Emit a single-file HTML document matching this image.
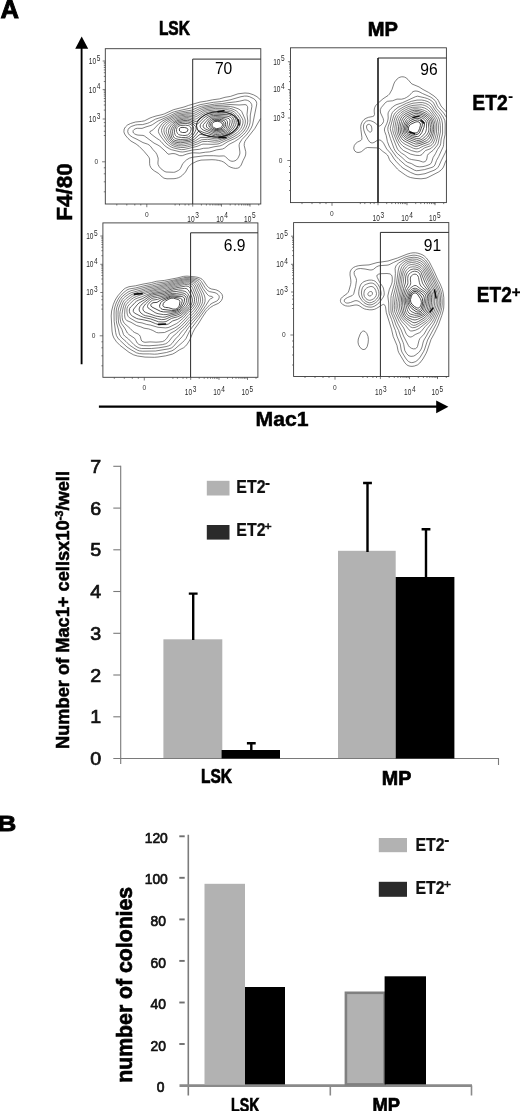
<!DOCTYPE html>
<html lang="en"><head><meta charset="utf-8"><title>Figure</title>
<style>
html,body{margin:0;padding:0;background:#fff;}
body{width:520px;height:1111px;overflow:hidden;}
svg{display:block;font-family:"Liberation Sans", sans-serif;}
</style></head><body>
<svg width="520" height="1111" viewBox="0 0 520 1111">
<rect width="520" height="1111" fill="#fff"/>
<text x="0.4" y="17.6" font-size="25.6" font-weight="bold" text-anchor="start" fill="#000" stroke="#000" stroke-width="0.9">A</text>
<text transform="translate(-2.4,831.3) scale(1.15,1)" font-size="22.6" font-weight="bold" stroke="#000" stroke-width="0.9">B</text>
<g id="frames" fill="none" stroke-linecap="butt">
<rect x="105.3" y="48.7" width="155.5" height="155.3" stroke="#3a3a3a" stroke-width="0.9"/>
<path d="M192.7 204.0V59.1H260.8" stroke="#2a2a2a" stroke-width="1"/>
<rect x="290.5" y="47.8" width="155.9" height="154.8" stroke="#3a3a3a" stroke-width="0.9"/>
<path d="M378.0 202.6V58.0H446.4" stroke="#2a2a2a" stroke-width="1"/>
<path d="M378.0 202.6V58.0" stroke="#111" stroke-width="1.2"/>
<rect x="102.9" y="222.9" width="155.0" height="154.4" stroke="#3a3a3a" stroke-width="0.9"/>
<path d="M190.6 377.3V232.8H257.9" stroke="#2a2a2a" stroke-width="1"/>
<rect x="293.6" y="222.6" width="155.2" height="153.9" stroke="#3a3a3a" stroke-width="0.9"/>
<path d="M380.4 376.5V232.4H448.8" stroke="#2a2a2a" stroke-width="1"/>
</g>
<g font-family='"Liberation Sans", sans-serif'>
<text x="223.6" y="73.8" font-size="15.6" font-weight="normal" text-anchor="middle" fill="#000">70</text>
<text x="429.0" y="74.5" font-size="15.6" font-weight="normal" text-anchor="middle" fill="#000">96</text>
<text x="234.6" y="250.8" font-size="15.6" font-weight="normal" text-anchor="middle" fill="#000">6.9</text>
<text x="432.5" y="250.6" font-size="15.6" font-weight="normal" text-anchor="middle" fill="#000">91</text>
</g>
<g id="ticklabels">
<text transform="translate(88.8,63.9) scale(0.8,1)" font-size="8.2" fill="#2a2a2a">10<tspan dx="0.8" dy="-3.2" font-size="8.2">5</tspan></text>
<text transform="translate(88.8,92.5) scale(0.8,1)" font-size="8.2" fill="#2a2a2a">10<tspan dx="0.8" dy="-3.2" font-size="8.2">4</tspan></text>
<text transform="translate(88.8,121.9) scale(0.8,1)" font-size="8.2" fill="#2a2a2a">10<tspan dx="0.8" dy="-3.2" font-size="8.2">3</tspan></text>
<text x="94.39999999999999" y="164.20000000000002" font-size="6.6" fill="#333">0</text>
<text transform="translate(273.2,64.60000000000001) scale(0.8,1)" font-size="8.2" fill="#2a2a2a">10<tspan dx="0.8" dy="-3.2" font-size="8.2">5</tspan></text>
<text transform="translate(273.2,92.4) scale(0.8,1)" font-size="8.2" fill="#2a2a2a">10<tspan dx="0.8" dy="-3.2" font-size="8.2">4</tspan></text>
<text transform="translate(273.2,120.9) scale(0.8,1)" font-size="8.2" fill="#2a2a2a">10<tspan dx="0.8" dy="-3.2" font-size="8.2">3</tspan></text>
<text x="278.8" y="162.9" font-size="6.6" fill="#333">0</text>
<text transform="translate(86.2,238.9) scale(0.8,1)" font-size="8.2" fill="#2a2a2a">10<tspan dx="0.8" dy="-3.2" font-size="8.2">5</tspan></text>
<text transform="translate(86.2,267.2) scale(0.8,1)" font-size="8.2" fill="#2a2a2a">10<tspan dx="0.8" dy="-3.2" font-size="8.2">4</tspan></text>
<text transform="translate(86.2,295.4) scale(0.8,1)" font-size="8.2" fill="#2a2a2a">10<tspan dx="0.8" dy="-3.2" font-size="8.2">3</tspan></text>
<text x="91.8" y="338.2" font-size="6.6" fill="#333">0</text>
<text transform="translate(276.3,239.1) scale(0.8,1)" font-size="8.2" fill="#2a2a2a">10<tspan dx="0.8" dy="-3.2" font-size="8.2">5</tspan></text>
<text transform="translate(276.3,267.2) scale(0.8,1)" font-size="8.2" fill="#2a2a2a">10<tspan dx="0.8" dy="-3.2" font-size="8.2">4</tspan></text>
<text transform="translate(276.3,294.9) scale(0.8,1)" font-size="8.2" fill="#2a2a2a">10<tspan dx="0.8" dy="-3.2" font-size="8.2">3</tspan></text>
<text x="281.90000000000003" y="337.4" font-size="6.6" fill="#333">0</text>
<text x="145.0" y="216.6" font-size="6.6" fill="#333">0</text>
<text transform="translate(187.3,221.6) scale(0.8,1)" font-size="8.2" fill="#2a2a2a">10<tspan dx="0.8" dy="-3.2" font-size="8.2">3</tspan></text>
<text transform="translate(216.3,221.6) scale(0.8,1)" font-size="8.2" fill="#2a2a2a">10<tspan dx="0.8" dy="-3.2" font-size="8.2">4</tspan></text>
<text transform="translate(244.0,221.6) scale(0.8,1)" font-size="8.2" fill="#2a2a2a">10<tspan dx="0.8" dy="-3.2" font-size="8.2">5</tspan></text>
<text x="330.0" y="216.0" font-size="6.6" fill="#333">0</text>
<text transform="translate(372.5,221.0) scale(0.8,1)" font-size="8.2" fill="#2a2a2a">10<tspan dx="0.8" dy="-3.2" font-size="8.2">3</tspan></text>
<text transform="translate(401.3,221.0) scale(0.8,1)" font-size="8.2" fill="#2a2a2a">10<tspan dx="0.8" dy="-3.2" font-size="8.2">4</tspan></text>
<text transform="translate(429.0,221.0) scale(0.8,1)" font-size="8.2" fill="#2a2a2a">10<tspan dx="0.8" dy="-3.2" font-size="8.2">5</tspan></text>
<text x="142.6" y="390.3" font-size="6.6" fill="#333">0</text>
<text transform="translate(184.8,395.3) scale(0.8,1)" font-size="8.2" fill="#2a2a2a">10<tspan dx="0.8" dy="-3.2" font-size="8.2">3</tspan></text>
<text transform="translate(213.3,395.3) scale(0.8,1)" font-size="8.2" fill="#2a2a2a">10<tspan dx="0.8" dy="-3.2" font-size="8.2">4</tspan></text>
<text transform="translate(241.5,395.3) scale(0.8,1)" font-size="8.2" fill="#2a2a2a">10<tspan dx="0.8" dy="-3.2" font-size="8.2">5</tspan></text>
<text x="333.0" y="390.0" font-size="6.6" fill="#333">0</text>
<text transform="translate(375.0,395.0) scale(0.8,1)" font-size="8.2" fill="#2a2a2a">10<tspan dx="0.8" dy="-3.2" font-size="8.2">3</tspan></text>
<text transform="translate(404.0,395.0) scale(0.8,1)" font-size="8.2" fill="#2a2a2a">10<tspan dx="0.8" dy="-3.2" font-size="8.2">4</tspan></text>
<text transform="translate(431.5,395.0) scale(0.8,1)" font-size="8.2" fill="#2a2a2a">10<tspan dx="0.8" dy="-3.2" font-size="8.2">5</tspan></text>
</g>
<g id="ticks" stroke="#444" stroke-width="0.7" fill="none">
<path d="M102.7 61.0H105.3M102.7 89.6H105.3M102.7 119.0H105.3M102.1 161.8H105.3M103.8 81.5H105.3M103.8 76.4H105.3M103.8 72.7H105.3M103.8 69.9H105.3M103.8 67.5H105.3M103.8 65.6H105.3M103.8 63.8H105.3M103.8 62.3H105.3M103.8 110.1H105.3M103.8 105.0H105.3M103.8 101.3H105.3M103.8 98.5H105.3M103.8 96.1H105.3M103.8 94.2H105.3M103.8 92.4H105.3M103.8 90.9H105.3M103.8 135.5H105.3M103.8 131.3H105.3M103.8 126.1H105.3M103.8 122.6H105.3M103.8 167.8H105.3M103.8 173.8H105.3M103.8 181.8H105.3M103.8 191.8H105.3M192.7 204.0v2.6M221.5 204.0v2.6M250.0 204.0v2.6M146.8 204.0v3.2M201.4 204.0v1.5M206.4 204.0v1.5M210.0 204.0v1.5M212.8 204.0v1.5M215.1 204.0v1.5M217.0 204.0v1.5M218.7 204.0v1.5M220.2 204.0v1.5M230.2 204.0v1.5M235.2 204.0v1.5M238.8 204.0v1.5M241.6 204.0v1.5M243.9 204.0v1.5M245.8 204.0v1.5M247.5 204.0v1.5M249.0 204.0v1.5M175.1 204.0v1.5M179.5 204.0v1.5M185.1 204.0v1.5M188.8 204.0v1.5M140.8 204.0v1.5M134.8 204.0v1.5M126.8 204.0v1.5M116.8 204.0v1.5M258.7 204.0v1.5"/>
<path d="M287.9 61.7H290.5M287.9 89.5H290.5M287.9 118.0H290.5M287.3 160.5H290.5M289.0 81.6H290.5M289.0 76.6H290.5M289.0 73.0H290.5M289.0 70.3H290.5M289.0 68.0H290.5M289.0 66.1H290.5M289.0 64.5H290.5M289.0 63.0H290.5M289.0 109.4H290.5M289.0 104.4H290.5M289.0 100.8H290.5M289.0 98.1H290.5M289.0 95.8H290.5M289.0 93.9H290.5M289.0 92.3H290.5M289.0 90.8H290.5M289.0 134.3H290.5M289.0 130.2H290.5M289.0 125.0H290.5M289.0 121.6H290.5M289.0 166.5H290.5M289.0 172.5H290.5M289.0 180.5H290.5M289.0 190.5H290.5M378.0 202.6v2.6M407.0 202.6v2.6M435.0 202.6v2.6M332.0 202.6v3.2M386.7 202.6v1.5M391.8 202.6v1.5M395.5 202.6v1.5M398.3 202.6v1.5M400.6 202.6v1.5M402.5 202.6v1.5M404.2 202.6v1.5M405.7 202.6v1.5M415.7 202.6v1.5M420.8 202.6v1.5M424.5 202.6v1.5M427.3 202.6v1.5M429.6 202.6v1.5M431.5 202.6v1.5M433.2 202.6v1.5M434.7 202.6v1.5M360.3 202.6v1.5M364.8 202.6v1.5M370.4 202.6v1.5M374.1 202.6v1.5M326.0 202.6v1.5M320.0 202.6v1.5M312.0 202.6v1.5M302.0 202.6v1.5M443.7 202.6v1.5"/>
<path d="M100.3 236.0H102.9M100.3 264.3H102.9M100.3 292.5H102.9M99.7 335.8H102.9M101.4 255.7H102.9M101.4 250.7H102.9M101.4 247.2H102.9M101.4 244.5H102.9M101.4 242.3H102.9M101.4 240.4H102.9M101.4 238.7H102.9M101.4 237.3H102.9M101.4 284.0H102.9M101.4 279.0H102.9M101.4 275.5H102.9M101.4 272.8H102.9M101.4 270.6H102.9M101.4 268.7H102.9M101.4 267.0H102.9M101.4 265.6H102.9M101.4 309.1H102.9M101.4 305.0H102.9M101.4 299.7H102.9M101.4 296.2H102.9M101.4 341.8H102.9M101.4 347.8H102.9M101.4 355.8H102.9M101.4 365.8H102.9M190.7 377.3v2.6M219.0 377.3v2.6M247.5 377.3v2.6M144.3 377.3v3.2M199.2 377.3v1.5M204.2 377.3v1.5M207.7 377.3v1.5M210.5 377.3v1.5M212.7 377.3v1.5M214.6 377.3v1.5M216.3 377.3v1.5M217.7 377.3v1.5M227.5 377.3v1.5M232.5 377.3v1.5M236.0 377.3v1.5M238.8 377.3v1.5M241.0 377.3v1.5M242.9 377.3v1.5M244.6 377.3v1.5M246.0 377.3v1.5M172.9 377.3v1.5M177.4 377.3v1.5M183.0 377.3v1.5M186.7 377.3v1.5M138.3 377.3v1.5M132.3 377.3v1.5M124.3 377.3v1.5M114.3 377.3v1.5M256.0 377.3v1.5"/>
<path d="M291.0 236.2H293.6M291.0 264.3H293.6M291.0 292.0H293.6M290.4 335.0H293.6M292.1 255.6H293.6M292.1 250.7H293.6M292.1 247.2H293.6M292.1 244.5H293.6M292.1 242.3H293.6M292.1 240.5H293.6M292.1 238.9H293.6M292.1 237.5H293.6M292.1 283.7H293.6M292.1 278.8H293.6M292.1 275.3H293.6M292.1 272.6H293.6M292.1 270.4H293.6M292.1 268.6H293.6M292.1 267.0H293.6M292.1 265.6H293.6M292.1 308.5H293.6M292.1 304.4H293.6M292.1 299.1H293.6M292.1 295.7H293.6M292.1 341.0H293.6M292.1 347.0H293.6M292.1 355.0H293.6M292.1 365.0H293.6M380.4 376.5v2.6M409.5 376.5v2.6M437.5 376.5v2.6M335.0 376.5v3.2M389.2 376.5v1.5M394.3 376.5v1.5M397.9 376.5v1.5M400.7 376.5v1.5M403.0 376.5v1.5M405.0 376.5v1.5M406.7 376.5v1.5M408.2 376.5v1.5M418.3 376.5v1.5M423.4 376.5v1.5M427.0 376.5v1.5M429.8 376.5v1.5M432.1 376.5v1.5M434.1 376.5v1.5M435.8 376.5v1.5M437.3 376.5v1.5M362.9 376.5v1.5M367.3 376.5v1.5M372.9 376.5v1.5M376.5 376.5v1.5M329.0 376.5v1.5M323.0 376.5v1.5M315.0 376.5v1.5M305.0 376.5v1.5M446.3 376.5v1.5"/>
</g>
<g id="contours" fill="none" stroke-linejoin="round">
<path stroke="#303030" stroke-width="0.62" d="M183.5 144.1L180.5 144.3L177.5 144.0L174.5 143.3L172.0 142.0L170.8 141.0L169.6 139.5L166.5 133.0L166.2 131.5L166.4 129.5L166.9 128.0L167.8 126.5L171.4 123.0L176.5 119.7L180.0 118.6L186.5 117.5L189.5 117.8L194.0 119.0L195.5 119.1L197.0 118.6L202.0 114.8L205.5 112.9L209.0 112.0L215.5 111.4L221.5 111.7L227.0 111.3L230.0 111.8L232.5 112.8L234.2 114.0L236.0 116.0L237.6 118.5L238.2 120.5L238.3 122.5L237.7 125.0L236.5 127.5L235.0 129.5L232.9 131.5L229.0 134.4L226.5 135.8L220.5 138.1L217.0 138.8L214.0 138.7L208.0 137.5L201.0 137.4L200.0 137.8L195.5 140.7L192.0 142.3L188.5 143.2ZM185.0 145.6L181.5 145.9L178.5 145.7L175.0 144.9L172.0 143.6L170.0 142.1L168.5 140.5L165.2 135.0L164.3 133.0L163.9 131.0L164.0 129.5L164.6 127.5L165.8 125.5L167.4 124.0L169.3 122.5L175.5 118.8L179.0 117.5L186.0 116.3L189.0 116.3L193.5 117.1L195.0 117.0L197.0 116.2L203.0 112.4L205.5 111.3L207.5 110.8L215.5 109.9L221.5 110.1L227.0 109.7L230.5 110.3L233.0 111.2L234.5 112.1L237.5 115.0L239.8 118.5L240.6 121.0L240.5 123.0L239.9 125.5L238.6 128.0L237.1 130.0L234.9 132.0L231.0 134.7L228.0 136.4L221.5 139.2L217.5 140.3L214.0 140.3L207.5 139.3L201.5 139.8L197.0 142.0L193.5 143.4L189.5 144.6ZM184.0 147.5L180.5 147.5L176.0 146.8L173.0 145.8L170.5 144.4L168.5 142.8L166.9 141.0L163.1 135.5L161.8 132.5L161.5 130.5L161.7 129.0L163.0 126.0L164.5 124.0L167.5 121.7L175.0 117.6L179.0 116.2L185.5 115.1L188.5 115.0L193.0 115.4L194.5 115.2L196.0 114.6L202.0 111.2L204.5 110.2L207.0 109.5L215.5 108.4L222.0 108.4L227.5 108.0L229.5 108.2L232.0 108.9L234.5 109.9L236.4 111.0L238.0 112.4L239.4 114.0L242.3 118.5L243.0 120.5L243.0 123.0L242.1 126.0L240.8 128.5L239.0 130.8L237.2 132.5L234.0 134.7L230.0 137.0L221.5 140.7L218.5 141.8L214.5 142.2L207.5 141.4L202.5 141.6L201.0 142.1L197.5 143.9L193.0 145.4L187.5 146.8ZM184.0 149.5L181.5 149.6L179.0 149.2L173.5 147.9L171.0 146.9L168.2 145.0L166.0 143.1L161.2 137.0L158.8 133.0L158.4 131.5L158.5 130.0L159.3 128.0L161.2 125.0L162.4 123.5L164.1 122.0L166.5 120.5L174.5 116.4L177.5 115.3L186.5 113.8L193.5 113.6L195.1 113.0L200.0 110.3L203.0 109.1L206.0 108.3L214.0 107.1L217.0 106.9L223.0 106.8L228.0 106.3L230.5 106.5L234.0 107.3L238.0 108.7L240.3 110.0L241.7 111.5L245.0 119.0L245.4 121.0L245.2 123.5L244.3 126.5L242.7 129.5L240.1 132.5L237.5 134.6L233.0 137.3L219.0 143.7L217.0 144.1L213.0 144.3L203.0 144.1L201.5 144.5L197.0 146.4ZM182.5 152.0L180.0 151.8L171.5 149.7L169.5 148.8L167.0 147.3L164.5 145.5L161.0 141.5L159.5 140.1L156.3 138.0L151.0 134.0L150.0 133.0L149.7 132.0L150.0 131.5L152.0 130.5L153.5 129.4L159.1 123.5L161.7 121.5L165.0 119.6L169.6 117.5L174.0 115.2L177.0 114.0L185.5 112.6L192.5 111.9L194.5 111.2L199.5 108.7L202.0 107.8L205.0 107.1L214.5 105.6L223.0 105.2L230.0 104.5L239.0 105.0L245.0 104.6L246.0 104.8L247.0 105.6L247.5 106.5L247.7 108.0L247.0 114.5L247.8 121.0L247.3 124.5L245.7 128.5L244.1 131.0L241.5 133.9L238.5 136.3L235.0 138.4L228.0 141.5L222.5 144.9L220.0 145.9L214.0 146.8L208.5 148.1L203.5 148.3L199.5 149.3L192.5 150.0L185.0 151.7ZM182.5 155.6L181.0 155.7L179.5 155.6L175.8 154.0L174.0 153.6L172.0 153.6L169.0 154.2L168.0 154.1L165.1 151.0L160.0 146.4L158.0 145.1L154.0 143.1L144.5 136.0L143.0 135.4L138.0 135.1L136.0 134.6L134.5 133.8L133.5 133.0L133.0 132.0L133.2 130.5L134.1 129.5L136.0 128.5L137.5 128.3L142.0 128.4L146.0 126.9L151.0 125.4L152.7 124.5L158.0 121.0L168.3 116.5L175.0 113.2L179.0 112.2L191.5 110.2L198.5 107.2L201.5 106.3L214.5 104.1L222.5 103.6L228.0 102.7L235.5 101.9L239.5 101.2L244.5 100.0L246.0 100.0L247.5 100.4L249.0 101.1L250.6 102.5L251.7 104.5L251.9 106.5L250.3 115.0L250.1 122.5L249.4 125.5L247.6 129.5L245.5 132.5L243.0 135.2L238.5 139.0L234.5 141.6L229.0 144.4L224.6 148.0L222.5 149.0L216.5 149.9L212.0 151.3L209.5 151.9L205.5 152.2L199.5 153.1L193.5 152.8L191.0 153.0L186.9 154.0ZM175.0 172.1L173.5 172.3L166.0 172.0L164.0 171.1L160.7 168.5L159.1 166.5L158.1 164.5L157.9 163.0L158.2 159.5L158.1 158.0L156.9 154.5L155.7 152.5L152.9 149.5L150.5 146.3L149.0 144.9L147.5 144.1L143.0 142.6L137.0 139.3L132.5 137.2L129.5 135.1L128.3 133.5L127.7 131.5L128.1 129.5L129.1 128.0L131.2 126.5L135.5 125.0L137.5 124.7L142.5 124.6L147.5 123.3L149.5 122.5L155.5 119.1L164.0 116.5L172.0 112.6L174.5 111.7L190.8 108.0L198.0 105.3L201.0 104.5L213.5 102.3L221.5 101.5L230.0 99.9L241.0 96.7L244.5 96.1L247.0 96.1L249.5 96.7L253.3 98.5L255.3 100.0L256.5 102.0L256.7 103.5L256.6 105.0L252.5 125.0L251.2 128.0L248.7 132.0L246.3 135.0L241.9 139.5L239.7 143.0L239.2 144.5L239.1 146.0L239.9 152.0L239.8 154.0L238.6 157.0L237.5 158.8L236.5 159.9L235.0 160.8L233.5 161.2L232.0 161.3L230.5 160.9L228.5 159.7L225.5 156.7L224.5 156.1L223.5 155.9L219.0 156.1L213.5 155.7L205.0 155.7L193.0 157.2L189.5 158.1L186.5 159.9L182.8 163.5L180.5 168.4L179.7 169.5L178.3 170.5ZM260.5 118.6L254.8 128.5L246.2 139.5L244.9 141.5L244.3 143.5L244.2 145.5L245.7 151.5L245.8 153.0L245.6 155.0L244.9 157.0L243.1 160.5L241.2 165.0L240.2 166.5L239.0 167.6L237.5 168.2L235.5 168.4L233.5 168.1L231.0 167.4L228.5 166.1L225.0 163.0L223.5 162.0L221.5 161.1L218.5 160.4L215.5 159.9L212.0 159.7L201.0 160.1L197.0 161.2L191.3 164.0L188.5 166.6L185.5 172.0L182.5 175.2L180.5 176.7L178.5 177.7L176.5 178.3L174.0 178.7L167.0 178.8L164.0 178.2L162.2 177.0L158.7 173.5L154.5 171.0L152.0 169.1L150.8 167.5L149.9 165.5L149.6 163.5L149.6 159.0L149.0 157.5L148.4 156.5L144.0 151.3L139.3 146.5L136.1 144.0L131.0 141.1L128.0 138.4L125.2 135.0L124.2 133.0L123.9 131.5L124.2 129.0L125.4 127.0L127.5 125.0L130.5 123.5L135.5 122.0L141.5 121.4L144.5 120.8L150.0 118.0L152.5 117.1L156.0 116.0L161.0 114.9L164.1 114.0L173.5 109.7L184.0 107.0L188.5 105.4L200.0 102.1L206.5 101.1L212.5 99.8L219.5 98.9L225.0 97.3L230.5 96.4L238.0 93.8L245.0 93.0L249.0 93.3L253.5 94.8L257.0 96.7L260.5 99.9M418.5 148.5L416.0 148.9L413.5 148.3L405.0 144.2L402.5 142.5L400.5 140.3L398.7 137.0L397.5 134.0L396.8 131.0L396.7 126.5L397.7 121.5L398.7 118.5L400.0 116.3L402.0 114.1L404.5 112.3L409.5 109.9L413.0 108.9L417.0 108.8L421.0 109.3L424.5 110.5L427.5 112.2L430.5 115.0L432.8 118.0L434.2 121.0L435.0 124.5L435.1 128.0L434.7 133.0L433.1 139.0L431.6 142.0L430.7 143.0L429.5 143.8L423.6 146.0ZM419.0 151.6L417.5 151.9L416.0 151.8L411.5 150.6L406.0 148.1L403.0 146.2L400.5 143.6L398.7 141.0L396.0 135.0L394.9 131.0L394.9 127.0L395.9 121.5L396.7 118.5L398.3 115.5L401.0 112.7L404.5 110.4L408.5 108.4L412.5 107.3L419.5 107.0L421.5 107.2L424.5 108.0L427.5 109.6L430.0 111.9L434.3 117.5L435.7 120.5L436.5 124.0L436.7 127.0L436.4 133.5L434.8 139.5L433.3 143.0L432.0 144.7L430.5 145.8L424.5 147.9L420.5 150.8ZM419.5 155.5L415.5 155.3L410.5 154.1L403.5 150.5L401.5 148.9L399.6 146.5L396.6 141.0L393.6 133.5L392.8 130.5L392.7 128.5L394.2 120.5L395.3 117.0L396.6 114.5L399.1 112.0L401.5 110.2L405.5 107.8L409.0 106.4L413.0 105.4L421.0 104.7L422.5 104.9L424.5 105.4L426.5 106.3L428.5 107.6L430.5 109.6L435.9 117.0L437.3 119.5L438.1 123.0L438.4 126.0L438.4 131.5L438.1 134.0L436.3 141.5L435.5 143.5L434.5 145.0L431.5 148.0L430.0 148.9L425.6 150.5L424.5 151.5L422.0 154.5L421.0 155.1ZM423.5 162.0L422.5 161.9L419.0 160.7L411.5 159.5L409.5 158.9L408.0 158.0L404.5 155.0L401.4 153.0L399.5 151.4L398.0 149.8L397.0 148.0L392.7 137.0L390.5 130.0L390.3 128.5L390.5 127.0L392.8 118.5L393.9 115.0L395.1 113.0L399.1 109.5L405.0 106.1L409.0 104.4L413.0 103.2L419.0 102.6L422.5 102.6L425.5 103.3L428.5 104.8L431.0 107.1L433.6 111.0L437.9 116.5L439.2 119.0L439.8 121.5L440.3 125.5L440.4 132.0L438.0 144.0L436.7 146.0L433.0 150.4L428.3 154.0L427.4 155.5L426.8 159.0L426.2 160.5L425.0 161.6ZM423.0 166.6L419.5 166.8L417.0 166.5L415.0 165.7L411.5 163.6L407.5 162.3L405.7 161.0L402.0 157.5L397.5 153.7L395.3 151.0L394.0 148.5L390.4 138.5L388.2 131.5L387.8 129.5L388.0 127.0L390.0 121.5L391.5 114.5L392.4 112.5L394.0 110.6L398.0 107.4L406.5 103.2L411.5 101.3L417.0 100.1L421.5 100.0L424.5 100.5L428.0 101.7L430.7 103.5L432.0 105.0L435.1 110.0L438.9 114.5L440.3 116.5L441.8 120.0L442.5 124.0L442.6 133.0L442.3 135.0L441.2 139.0L440.7 143.5L440.2 145.5L437.5 149.5L435.5 153.6L433.1 157.5L431.7 162.0L430.9 163.5L430.0 164.2L428.0 165.2L425.5 166.0ZM419.0 170.5L416.5 170.7L414.5 170.2L405.5 165.2L399.0 159.4L396.0 156.3L390.8 149.0L389.1 146.0L387.4 141.5L386.2 135.5L384.7 131.5L384.4 130.0L384.7 128.0L387.0 123.1L387.9 120.0L388.2 118.0L388.0 114.0L388.3 112.5L389.4 110.5L391.0 108.5L394.0 106.0L396.0 104.8L402.5 102.7L415.5 96.7L417.5 96.2L424.5 97.7L427.5 98.6L430.0 99.8L432.5 101.6L433.6 103.0L436.4 108.5L440.8 113.5L443.2 117.0L444.8 120.5L445.2 124.0L445.1 134.5L443.9 140.0L443.6 144.5L443.3 146.5L438.7 156.5L436.5 160.5L434.9 165.0L433.7 166.5L432.0 167.4L424.5 169.6ZM370.5 132.1L369.5 131.9L368.5 131.2L367.5 129.9L366.8 128.5L366.5 127.0L366.6 126.0L367.1 125.0L368.0 124.3L369.5 124.4L370.5 125.0L371.2 126.0L371.6 127.0L371.9 129.0L371.8 130.5L371.4 131.5ZM446.5 149.6L445.3 152.5L441.1 161.0L439.1 165.5L437.8 167.5L436.3 169.0L434.0 170.3L425.0 173.7L419.0 174.7L417.0 174.7L415.0 174.3L410.5 172.4L403.0 168.1L401.1 166.5L396.5 161.8L394.2 159.0L390.5 153.2L386.7 149.0L383.5 143.1L381.5 140.8L380.0 140.0L378.5 140.0L377.0 140.5L374.0 142.5L372.5 142.9L371.0 142.8L369.7 142.0L368.0 139.6L364.8 133.0L363.8 130.0L363.4 127.0L363.7 124.5L364.8 122.5L366.5 121.1L368.5 120.6L370.5 120.7L373.0 121.6L375.2 123.0L378.5 125.9L379.5 126.0L380.5 125.5L382.0 124.2L382.9 123.0L383.5 121.5L383.6 120.5L383.2 118.5L380.6 113.0L380.3 111.0L380.4 109.5L381.3 107.5L385.5 102.5L387.5 101.3L392.5 100.8L397.0 99.1L401.5 99.2L404.3 98.5L406.4 97.5L409.4 95.5L412.0 92.5L413.0 91.6L415.0 91.0L417.0 91.1L419.0 91.7L422.5 93.5L430.5 97.0L433.5 99.0L435.7 101.5L437.4 105.5L438.5 107.3L443.6 113.0L446.5 117.5M446.5 159.9L445.3 162.0L443.9 166.0L442.9 168.0L441.0 170.2L438.5 172.0L428.0 177.4L426.0 178.2L421.0 178.8L415.0 178.4L410.5 177.5L407.8 176.5L405.5 175.1L399.0 170.5L397.4 169.0L390.3 161.0L389.4 159.5L388.3 156.5L387.4 155.0L386.0 153.7L382.9 151.5L379.5 148.5L377.0 147.9L367.5 147.5L365.5 148.3L361.5 151.6L360.0 152.2L358.0 152.5L356.5 152.2L355.0 151.2L354.2 150.0L353.7 148.0L354.3 145.5L355.7 143.5L357.5 142.1L360.8 140.5L361.7 139.5L361.9 137.5L360.9 129.5L360.7 126.5L361.2 124.0L362.4 121.5L364.0 119.6L366.0 118.3L368.5 117.3L372.7 116.5L374.0 115.8L374.5 114.5L374.2 111.0L374.3 109.0L374.7 107.5L375.5 105.8L377.0 104.1L383.0 98.8L388.0 95.5L389.5 94.0L392.0 89.5L393.8 84.0L394.7 82.0L397.1 79.0L398.5 77.9L400.0 77.2L401.5 76.8L403.0 76.8L404.5 77.1L406.0 77.8L408.0 79.5L410.9 83.0L412.0 84.0L419.0 86.9L423.0 89.5L428.5 92.4L434.0 96.0L437.3 99.0L438.3 100.5L441.0 106.0L446.5 112.1M168.0 327.6L165.5 327.9L158.0 327.3L150.5 325.1L146.5 324.4L142.0 322.9L138.0 322.3L136.0 321.6L129.5 317.8L128.0 316.2L127.2 314.0L126.9 311.0L127.0 308.5L127.7 306.5L129.5 304.2L133.3 300.5L135.0 299.2L137.0 298.3L141.5 296.8L150.0 293.3L153.0 292.4L164.5 290.0L175.0 286.8L184.5 284.6L187.5 284.4L190.0 285.1L191.4 286.0L192.4 287.5L196.1 296.5L196.5 298.5L196.5 300.5L196.2 302.5L195.4 304.5L193.9 307.0L192.0 309.2L187.6 313.0L183.5 317.9L178.5 322.2L176.5 323.6L170.0 326.8ZM164.5 332.5L158.5 332.8L156.5 332.5L152.9 330.5L150.4 329.5L148.5 328.9L144.0 328.2L140.5 326.7L136.5 325.5L131.0 322.3L126.7 320.5L125.8 319.5L125.2 318.5L124.8 317.0L124.6 314.5L124.9 309.0L125.5 306.5L126.3 304.5L128.4 302.0L131.5 299.2L133.5 297.8L136.5 296.4L146.5 292.9L152.0 291.3L166.5 288.1L175.5 285.4L184.5 283.3L186.5 283.1L188.5 283.1L190.5 283.6L192.0 284.3L193.0 285.0L194.1 286.5L195.8 291.0L197.6 295.0L198.2 297.0L198.5 299.5L198.3 301.5L197.7 304.0L196.7 306.0L193.5 310.4L189.0 314.5L185.0 319.2L179.0 325.1L177.0 326.6L174.5 328.0ZM159.0 342.0L156.0 342.2L150.0 341.9L145.0 342.3L143.0 341.8L141.8 341.0L141.2 340.0L140.3 336.5L139.4 335.0L138.1 334.0L134.6 332.5L133.1 331.5L130.2 328.5L124.5 323.5L123.5 322.0L122.6 320.0L122.2 317.5L122.0 314.5L122.3 312.0L123.1 308.0L124.0 305.0L124.8 303.0L127.0 300.4L130.5 297.6L132.5 296.2L135.5 294.9L145.5 291.7L167.5 286.5L175.5 284.2L184.5 282.1L187.0 281.8L189.5 282.0L191.6 282.5L193.5 283.3L194.9 284.5L195.8 286.0L197.5 290.3L199.3 294.0L200.2 297.0L200.5 300.0L200.3 302.0L199.7 304.0L198.2 307.0L194.5 312.2L190.0 316.5L181.3 326.0L175.0 330.9L170.2 333.5L169.3 334.5L166.7 338.5L164.5 340.6L162.5 341.6ZM153.0 345.5L149.0 345.8L143.5 345.6L141.0 345.2L139.0 344.5L137.2 343.0L135.4 339.5L134.5 338.2L129.0 334.6L127.4 333.0L124.7 328.0L121.4 323.5L120.6 321.5L120.2 319.0L119.8 314.5L120.1 311.5L121.7 305.5L122.9 302.5L123.7 301.0L126.1 298.5L130.0 295.6L132.0 294.4L134.5 293.4L145.5 290.2L167.0 285.4L175.0 283.2L185.0 280.8L187.5 280.7L191.0 281.1L193.5 281.7L195.1 282.5L196.3 283.5L197.0 284.5L199.0 289.0L201.1 293.0L202.1 296.0L202.7 299.0L202.6 301.5L202.1 303.5L200.9 306.0L198.1 310.5L195.0 314.6L190.0 319.4L184.0 326.3L179.1 330.5L176.4 333.5L172.7 336.5L169.2 341.0L167.5 342.7L165.5 343.8L162.5 344.6L158.5 345.1ZM151.5 348.5L141.5 348.5L139.5 348.1L138.0 347.5L136.0 346.3L133.8 344.5L128.5 339.0L124.7 336.0L123.5 334.5L121.9 329.5L119.5 325.1L118.7 323.0L118.4 321.0L118.0 314.5L118.1 311.0L118.7 308.0L120.8 302.5L122.3 299.5L123.5 298.1L125.0 296.7L129.0 293.8L131.0 292.8L147.0 288.3L167.5 284.1L174.5 282.1L185.0 279.7L188.0 279.6L192.0 280.1L194.5 280.7L196.5 281.6L197.7 282.5L198.4 283.5L200.5 287.9L203.4 293.0L204.6 296.0L205.1 298.5L205.0 301.5L204.2 304.0L199.7 311.5L196.2 316.0L189.5 322.9L185.0 328.3L181.4 332.0L178.5 335.9L175.4 339.0L172.0 343.5L170.5 344.9L168.5 345.9L166.0 346.6L159.0 347.8ZM155.5 351.0L142.5 351.2L139.5 350.9L137.5 350.2L135.0 348.8L129.4 345.0L126.0 341.5L122.0 338.1L120.5 336.3L119.4 334.0L118.6 330.0L116.6 323.0L116.3 320.5L116.1 313.0L116.3 310.0L116.8 307.5L118.2 303.5L120.1 299.5L121.9 297.0L124.0 295.0L128.0 292.0L131.0 290.7L147.0 286.8L152.5 285.8L157.0 284.7L166.9 283.0L173.5 281.2L185.0 278.7L188.0 278.6L193.0 279.1L195.5 279.6L197.6 280.5L199.0 281.5L199.8 282.5L203.0 288.5L207.0 294.1L208.5 295.5L209.5 296.1L212.1 296.5L212.7 297.0L212.8 297.5L212.4 298.0L210.5 298.8L209.5 299.6L205.9 305.5L199.2 315.0L188.5 327.5L184.5 333.5L182.3 336.5L178.0 341.1L173.4 346.5L171.5 347.9L169.0 348.8ZM157.5 354.0L154.5 354.2L149.5 353.9L143.0 353.9L139.5 353.6L136.5 352.8L131.0 349.7L127.0 347.0L119.6 340.0L117.8 338.0L116.4 335.5L115.7 332.5L114.2 321.5L114.0 314.0L114.2 310.0L115.0 306.5L116.2 303.0L118.2 299.0L120.5 295.7L124.0 292.3L127.0 289.9L129.5 288.9L135.2 288.0L145.0 285.6L151.5 284.4L156.5 283.1L165.0 282.0L185.0 277.5L188.0 277.4L194.5 278.1L197.0 278.6L199.1 279.5L200.5 280.5L201.4 281.5L205.0 287.5L207.5 290.5L209.5 291.6L215.0 292.7L216.7 293.5L218.0 294.5L218.8 295.5L219.2 296.5L219.2 297.5L218.7 299.0L218.0 300.0L216.8 301.0L212.0 303.3L210.0 304.7L205.5 309.3L198.0 319.7L190.8 329.0L189.5 331.2L186.0 338.5L184.5 340.4L182.3 342.5L174.5 349.3L172.0 350.8L166.5 352.5ZM158.0 357.0L154.5 357.3L145.0 357.1L137.5 356.0L133.5 354.8L129.0 352.3L120.2 345.5L116.5 341.8L113.9 338.0L112.7 335.0L112.0 331.0L111.2 316.0L111.6 311.0L113.3 304.5L115.2 300.0L117.7 296.0L122.0 291.0L124.0 289.1L125.5 288.1L129.0 286.7L135.5 285.8L143.0 284.1L151.5 282.6L156.5 281.3L164.5 280.4L177.0 278.0L183.5 276.4L187.0 276.1L195.5 276.9L198.0 277.4L200.5 278.3L202.0 279.2L203.3 280.5L207.0 285.9L209.0 287.9L211.5 289.0L215.5 289.7L217.0 290.2L219.0 291.3L220.5 292.5L222.1 294.5L222.6 296.5L222.4 298.5L221.4 300.5L220.1 302.0L218.5 303.3L213.5 305.5L210.5 307.4L208.0 309.5L206.0 311.8L202.5 317.0L198.8 323.0L194.6 329.0L192.8 332.5L189.8 340.0L187.3 344.0L185.5 346.2L183.5 347.8L179.5 349.8L175.0 352.8L172.5 354.1L165.5 355.9ZM415.5 325.1L413.5 325.4L411.5 324.6L403.9 318.5L402.3 316.0L400.7 312.0L399.8 309.0L399.4 306.0L399.5 303.5L400.3 297.0L401.9 288.5L403.2 283.0L403.9 276.5L404.5 274.0L405.9 271.0L408.0 268.5L410.0 267.2L412.5 266.8L415.5 267.0L418.0 267.8L420.5 269.3L422.0 271.0L423.3 273.5L426.9 282.5L432.0 292.0L432.7 294.5L433.1 299.0L433.1 303.0L432.5 306.5L431.2 311.0L429.5 314.6L427.5 317.1L425.0 319.5L418.0 323.9ZM415.0 327.5L412.5 327.7L410.7 327.0L403.0 319.9L401.3 317.5L399.7 314.0L398.2 310.0L397.7 307.0L397.9 302.5L401.3 283.5L402.2 276.5L403.0 273.0L404.5 269.6L406.4 267.0L408.5 265.3L411.0 264.6L414.5 264.8L418.0 265.8L421.0 267.6L423.0 269.7L424.8 273.0L428.8 282.5L433.4 291.5L434.2 294.5L434.7 300.0L434.6 304.0L433.9 307.5L431.9 313.0L430.0 316.5L427.5 319.5L425.5 321.3L418.0 326.2ZM412.0 331.0L410.5 330.9L409.0 329.9L405.6 325.5L402.3 322.0L400.8 320.0L398.6 316.0L396.7 311.5L396.1 309.0L396.0 305.5L396.3 301.5L399.5 284.5L400.6 277.0L402.2 270.5L403.9 267.0L406.5 264.2L408.6 263.0L411.5 262.5L415.5 263.0L419.0 264.2L422.0 266.2L424.3 269.0L426.2 272.5L430.5 282.5L435.0 291.5L435.7 294.5L436.4 301.5L436.0 305.5L434.3 311.0L432.3 315.5L429.5 319.8L427.5 321.8L419.0 328.5L415.5 330.2ZM371.0 295.7L370.0 296.0L369.0 295.9L368.4 295.5L367.9 294.5L368.0 293.5L368.6 292.5L369.5 291.8L370.5 291.5L371.5 291.6L372.0 292.0L372.5 293.0L372.2 294.5ZM411.0 337.0L410.0 337.0L409.0 336.6L408.0 336.0L406.7 334.5L405.8 333.0L403.7 328.0L399.3 321.5L394.8 312.0L394.4 309.5L394.3 305.5L395.2 297.0L398.0 284.4L399.2 276.0L400.2 271.0L401.2 268.0L401.9 266.5L403.1 265.0L406.0 262.4L409.0 261.1L412.5 260.7L416.5 261.3L420.5 262.9L423.2 265.0L425.4 268.0L427.3 271.5L431.7 281.5L436.4 291.0L437.4 295.5L437.9 303.0L437.3 307.0L435.8 311.5L432.9 317.5L430.7 321.0L425.2 326.5L421.0 331.6L419.5 332.7L415.2 334.5L412.5 336.4ZM371.0 300.1L369.5 300.3L368.5 300.1L367.1 299.5L366.0 298.7L364.4 296.5L364.0 295.0L363.9 293.5L364.3 291.0L365.5 289.0L366.7 288.0L368.5 287.1L371.0 286.4L373.0 286.9L374.5 288.1L375.8 290.5L376.5 293.5L376.2 295.5L375.1 297.5L373.3 299.0ZM415.5 348.7L413.5 348.9L411.5 348.3L409.5 347.0L408.5 345.7L403.5 336.0L401.2 330.0L397.5 323.0L395.5 318.1L393.3 313.5L392.9 312.0L392.6 310.0L393.1 297.0L396.4 284.0L398.3 270.0L399.1 267.0L399.9 265.5L401.2 264.0L405.0 261.0L408.5 259.5L412.5 259.0L416.5 259.3L420.5 260.8L423.5 262.9L425.9 266.0L428.6 271.0L437.7 290.5L438.7 294.5L439.3 300.5L439.2 305.0L438.4 309.0L437.1 312.5L433.8 319.5L432.4 322.0L427.3 328.5L424.0 334.2L419.9 338.5L419.0 340.5L417.5 346.5L416.5 348.0ZM371.5 302.5L369.5 302.8L368.0 302.5L366.0 301.5L364.5 300.3L363.0 298.5L362.2 297.0L361.7 295.0L361.4 293.0L361.6 291.0L362.0 289.0L362.6 287.5L363.6 286.0L364.8 285.0L366.5 284.2L369.0 283.3L371.0 283.0L372.5 283.2L374.0 283.8L376.0 285.5L377.0 287.1L378.1 289.5L378.7 291.5L378.9 293.5L378.8 295.0L378.3 296.5L376.7 299.0L374.5 301.0ZM413.5 356.1L411.0 356.4L409.0 355.8L408.0 355.1L406.5 353.4L404.8 350.5L403.7 344.5L403.1 342.5L400.4 336.0L398.6 330.5L395.9 325.0L394.0 319.4L391.2 313.0L390.9 310.0L390.9 298.5L391.2 295.5L394.7 282.5L395.4 273.5L395.1 268.5L395.9 266.0L397.0 264.5L398.7 263.0L405.0 259.1L409.0 257.8L414.0 257.2L418.0 257.8L421.5 259.2L424.5 261.5L427.1 265.0L430.2 271.0L439.0 290.0L439.7 292.5L440.3 295.5L440.7 302.5L440.2 308.0L438.7 313.0L434.2 323.0L428.5 332.0L426.4 336.0L424.0 340.0L423.2 342.0L422.0 347.0L421.2 349.0L420.0 351.0L418.5 352.7L415.0 355.4ZM372.0 304.6L370.0 304.9L368.0 304.7L366.0 303.9L364.0 302.6L362.0 300.5L360.2 298.0L359.2 296.0L358.7 294.0L358.8 291.5L359.2 289.0L360.1 286.0L361.1 284.0L362.5 282.6L364.0 281.6L366.5 280.7L369.0 280.1L371.5 280.1L373.5 280.5L375.0 281.2L376.5 282.5L378.0 284.5L379.8 287.5L380.6 290.0L381.1 292.5L381.1 294.5L380.7 296.0L378.8 299.5L377.5 301.1L376.0 302.4L374.0 303.7ZM413.0 362.5L411.5 362.6L410.0 362.3L408.6 361.5L407.5 360.6L405.5 358.0L401.9 352.0L401.2 350.0L400.2 344.0L396.9 336.0L395.5 330.7L393.6 326.0L391.6 319.5L389.2 313.5L388.8 310.5L388.7 303.0L387.8 296.0L389.3 289.5L391.5 284.3L392.2 282.0L392.3 278.0L392.0 276.2L391.5 275.1L390.0 273.9L387.0 273.5L380.5 273.7L378.5 274.2L377.2 275.0L376.8 276.0L377.3 277.5L379.5 282.0L382.6 286.5L383.4 288.0L384.2 292.5L384.2 295.0L383.3 297.0L380.6 301.0L379.0 302.9L377.5 304.2L375.0 305.9L373.0 306.8L371.0 307.2L368.5 307.0L366.5 306.6L364.5 305.7L362.6 304.5L359.0 301.5L357.0 300.7L355.0 300.7L350.5 302.5L348.0 303.1L346.5 303.0L345.5 302.6L344.3 301.5L344.3 300.0L345.1 299.0L347.6 297.5L352.3 295.5L353.3 294.5L353.8 293.5L355.6 286.5L356.5 280.5L356.2 278.5L354.3 274.5L354.1 272.5L354.6 271.0L356.3 269.5L358.0 268.8L360.5 268.5L365.0 269.0L370.0 270.0L372.0 269.9L373.5 269.3L376.3 267.0L378.3 266.0L380.5 265.6L387.0 265.2L389.0 264.8L393.4 262.5L405.0 257.1L409.0 255.9L413.0 255.2L415.0 255.2L417.5 255.6L420.0 256.3L422.0 257.2L423.5 258.2L425.5 260.0L428.1 263.5L432.2 271.5L435.5 279.0L438.3 284.5L440.8 290.5L441.7 294.5L442.1 298.5L442.2 304.0L441.9 307.5L440.4 313.5L436.5 323.5L427.6 340.0L424.7 349.0L423.6 351.5L420.3 357.0L418.3 359.5L415.8 361.5ZM414.5 366.0L412.0 366.4L410.0 366.2L408.0 365.6L406.4 364.5L404.5 362.3L398.7 352.5L398.0 350.5L397.0 345.5L393.2 336.5L391.5 329.2L386.3 312.5L385.5 306.7L384.5 304.8L383.5 304.4L382.5 304.7L376.5 308.4L374.5 309.3L372.0 309.8L369.5 309.8L366.5 309.4L364.5 308.9L362.5 307.9L359.0 305.6L357.0 305.0L355.0 305.0L349.5 306.1L347.5 306.1L345.5 305.8L342.7 304.5L341.0 302.7L340.5 301.5L340.4 300.5L341.0 298.5L342.4 297.0L347.2 293.5L348.0 292.5L348.8 291.0L350.6 284.5L350.9 282.5L350.8 280.0L350.0 275.0L350.1 272.0L351.2 269.5L353.4 267.5L355.5 266.5L358.5 265.7L362.0 265.3L369.0 264.9L377.0 262.6L388.0 261.0L397.5 258.0L407.0 254.2L410.5 253.2L413.0 252.8L415.5 252.8L418.0 253.2L421.0 254.2L423.0 255.1L424.5 256.2L426.5 258.1L429.4 262.0L434.2 271.5L437.5 279.0L440.2 284.0L442.4 289.5L443.2 293.0L443.8 297.5L443.9 304.0L443.7 308.0L443.1 311.0L441.8 315.5L438.4 325.0L434.3 333.5L431.0 339.5L427.1 351.0L426.0 353.5L422.9 359.0L419.8 363.0L417.5 364.9ZM364.0 349.5L363.0 349.5L362.0 349.1L360.0 347.4L358.5 344.7L358.0 342.0L358.3 339.0L360.2 334.0L361.5 332.0L362.5 331.3L363.5 331.0L365.1 331.5L366.8 333.5L368.0 336.4L368.4 339.5L368.1 343.0L367.2 346.5L366.0 348.5L365.0 349.2Z"/>
<path stroke="#262626" stroke-width="0.72" d="M219.5 131.5L216.5 131.9L214.0 131.5L209.1 129.0L207.7 128.0L206.7 127.0L206.3 126.0L206.6 124.5L208.7 121.0L210.0 119.5L211.5 118.6L213.0 118.2L219.0 118.0L221.5 118.3L224.5 119.0L226.0 119.6L227.0 120.5L227.5 122.0L227.4 124.5L226.8 127.0L226.0 128.5L225.0 129.5L224.0 130.1ZM185.0 135.5L182.5 135.4L180.0 135.0L178.5 134.4L177.5 133.5L176.6 131.5L176.5 129.5L177.0 127.7L178.0 126.5L179.0 125.9L180.5 125.5L185.5 125.2L188.5 125.6L189.5 126.1L190.6 127.0L191.1 128.0L191.1 129.5L190.6 131.5L189.8 133.0L188.9 134.0L187.5 135.0ZM218.5 133.0L216.0 133.2L214.0 132.8L205.6 129.0L204.1 128.0L203.3 127.0L203.0 126.0L203.5 124.5L208.3 119.0L210.0 117.8L212.0 117.0L215.5 116.7L220.0 116.9L227.0 117.9L229.0 118.7L229.9 120.0L230.0 122.0L229.1 126.0L227.6 129.0L226.5 130.2L225.0 131.1ZM185.5 137.5L181.5 137.5L178.5 137.1L176.7 136.5L175.5 135.5L175.0 134.5L174.5 132.6L174.6 129.5L175.6 127.0L176.5 125.8L177.5 125.0L179.0 124.3L181.0 123.8L185.0 123.4L187.5 123.5L189.5 124.0L191.0 124.7L192.5 125.9L193.4 127.0L193.7 128.0L193.6 129.5L192.7 132.0L191.5 134.0L190.0 135.7L188.5 136.8L187.0 137.3ZM217.5 134.5L215.5 134.5L213.5 134.1L203.2 130.0L201.5 128.7L200.5 127.5L200.1 126.0L200.5 124.5L201.6 123.0L206.1 118.5L208.5 116.8L211.0 115.9L213.5 115.5L217.0 115.5L227.0 116.2L229.0 116.6L230.7 117.5L231.6 118.5L232.1 119.5L232.3 122.0L231.3 125.5L229.4 129.0L227.5 131.0L225.5 132.3L220.5 134.0ZM187.0 139.1L180.5 139.5L178.0 139.3L175.3 138.5L174.5 138.0L173.7 137.0L173.0 135.5L172.7 133.5L172.6 131.5L172.8 130.0L173.2 128.5L174.3 126.5L175.5 124.9L177.0 123.7L179.0 122.8L182.5 122.2L185.5 121.8L188.0 122.0L190.0 122.5L192.0 123.5L194.2 125.0L195.6 126.5L196.2 128.0L196.0 129.5L195.2 131.5L193.8 134.0L191.7 136.5L190.0 138.0L188.5 138.7ZM182.5 141.0L178.5 141.1L176.0 140.7L174.5 140.2L173.4 139.5L172.4 138.5L171.3 136.0L170.7 132.0L170.8 130.5L171.4 128.5L172.5 126.5L174.1 124.5L175.7 123.0L177.5 122.0L179.5 121.4L184.0 120.5L187.5 120.4L190.5 121.1L195.5 123.7L197.0 124.1L198.0 123.6L203.7 118.0L206.0 116.3L209.5 114.8L213.5 114.2L217.0 114.2L228.5 114.7L230.0 115.2L231.5 116.0L232.6 117.0L233.6 118.5L234.2 120.5L234.2 122.5L233.7 124.5L232.8 126.5L231.6 128.5L229.9 130.5L227.5 132.5L225.5 133.6L219.5 135.6L215.5 135.9L213.0 135.4L208.5 133.8L204.0 132.7L200.0 130.9L199.0 130.9L198.0 131.7L196.5 134.0L194.8 136.0L192.8 138.0L191.0 139.4L188.5 140.3ZM183.0 142.5L180.5 142.8L178.0 142.6L175.0 142.0L173.0 141.1L171.7 140.0L170.7 138.5L168.8 133.5L168.6 132.0L168.6 130.5L169.0 129.0L169.7 127.5L171.2 125.5L173.1 123.5L175.0 122.0L177.0 120.8L179.0 120.2L183.5 119.2L187.0 118.9L190.0 119.4L195.0 121.3L196.5 121.4L198.0 120.6L203.3 116.0L206.0 114.4L209.5 113.3L214.5 112.8L221.5 113.1L227.0 112.9L229.0 113.2L231.3 114.0L233.0 115.1L234.3 116.5L235.5 118.5L236.1 120.5L236.2 122.5L235.8 124.5L234.6 127.0L233.2 129.0L231.2 131.0L228.5 133.2L226.0 134.7L220.5 136.8L216.5 137.3L213.5 137.0L208.5 135.7L204.0 135.1L201.0 134.4L200.0 134.4L199.0 135.0L194.6 139.0L192.0 140.6L189.0 141.6ZM419.0 138.6L418.0 138.7L416.5 138.5L411.0 136.8L408.1 135.5L406.7 134.5L405.7 133.5L405.0 132.1L404.6 130.5L404.5 128.0L404.9 126.0L406.0 123.4L407.5 121.0L409.0 119.5L410.5 118.6L414.0 117.2L416.0 116.6L417.5 116.6L419.0 116.8L421.5 117.7L423.0 118.4L424.3 119.5L425.6 121.0L426.2 122.0L426.5 123.5L426.5 128.5L426.0 131.0L425.5 132.5L424.4 134.0L421.5 137.0L420.3 138.0ZM420.0 140.1L418.0 140.5L416.5 140.3L410.0 138.0L407.5 136.9L406.0 135.8L404.7 134.5L403.9 133.0L403.3 131.0L403.1 128.5L403.5 126.0L405.1 122.0L406.5 119.6L407.6 118.5L409.5 117.3L413.0 115.8L415.5 115.0L417.0 114.9L418.5 115.1L421.5 116.0L423.6 117.0L425.6 118.5L427.1 120.0L427.9 121.5L428.3 123.0L428.9 129.0L428.7 131.0L428.0 133.0L426.7 135.0L425.3 136.5L422.3 139.0ZM418.5 142.1L416.5 142.1L415.0 141.7L408.5 139.2L406.0 137.8L404.0 136.0L402.9 134.5L402.1 132.5L401.6 129.5L401.7 127.5L402.2 125.0L403.8 120.5L405.0 118.5L407.0 116.8L411.0 114.8L413.5 113.8L416.0 113.3L418.5 113.5L423.0 115.0L425.0 116.1L427.5 118.2L429.0 120.0L429.6 121.5L430.6 127.5L430.6 130.0L430.1 132.5L429.0 135.0L427.7 137.0L426.0 138.6L423.0 140.6L421.0 141.5ZM417.0 144.0L415.5 144.0L413.5 143.3L406.5 140.1L404.2 138.5L402.5 136.7L401.1 134.5L400.4 132.0L400.0 129.0L400.2 126.0L401.5 121.5L402.5 119.0L403.9 117.0L406.0 115.4L411.5 112.8L413.5 112.1L416.0 111.7L418.5 112.0L423.5 113.7L426.0 115.1L428.9 117.5L430.4 119.5L431.2 121.5L431.8 124.5L432.2 128.0L432.0 131.0L431.5 133.3L430.0 137.0L428.5 139.2L426.5 140.7L423.0 142.4L420.0 143.4ZM418.0 146.0L416.0 146.4L414.0 146.0L405.0 141.4L403.0 140.1L401.5 138.4L399.8 135.5L398.9 133.0L398.4 130.0L398.5 126.5L399.6 121.5L400.7 118.5L402.0 116.5L403.5 115.0L406.0 113.5L411.0 111.1L414.5 110.3L418.0 110.4L422.5 111.6L425.5 113.0L428.0 114.7L430.4 117.0L431.7 119.0L432.9 122.0L433.6 126.0L433.6 129.5L433.2 133.0L431.3 138.5L430.2 140.5L429.0 141.6L427.3 142.5ZM166.0 314.6L163.5 314.6L159.0 313.9L157.0 313.4L155.0 312.6L148.1 308.0L147.5 306.5L147.6 305.5L148.0 304.5L150.5 301.6L152.5 300.2L157.5 299.4L161.1 298.0L165.5 296.7L171.0 294.8L173.0 294.6L177.0 295.1L181.5 294.6L183.5 295.1L185.0 296.0L185.8 297.0L186.4 298.5L186.5 300.5L186.2 302.5L184.9 305.0L181.0 309.8L179.0 311.3L176.5 312.4ZM165.0 317.1L162.5 317.2L155.5 316.0L145.8 312.5L144.0 311.4L143.1 310.0L142.9 308.5L143.3 307.0L145.5 304.0L149.7 300.0L151.5 298.7L153.0 298.1L157.5 297.4L164.0 295.8L172.0 293.3L176.5 293.4L180.0 292.8L182.0 292.8L184.0 293.3L186.0 294.5L187.0 295.7L187.7 297.0L188.2 299.0L188.3 301.0L188.1 302.5L187.7 304.0L185.9 306.5L181.5 311.0L179.0 312.7L176.5 313.7L171.0 315.0ZM164.0 319.5L161.5 319.6L157.5 318.8L150.0 316.5L145.5 315.7L143.5 314.9L140.9 313.0L139.4 311.0L139.1 309.0L140.0 306.5L142.1 304.0L149.0 298.5L150.5 297.5L152.5 296.6L164.0 294.4L172.5 291.7L176.0 291.5L180.0 290.8L182.5 290.8L185.0 291.3L186.5 292.2L187.7 293.5L188.7 295.0L189.6 297.0L190.0 299.0L190.2 301.0L190.0 303.0L189.5 304.5L188.5 306.0L182.0 312.4L180.0 313.8L177.0 315.1L171.4 316.5L166.0 319.0ZM166.0 321.6L163.0 322.0L158.5 321.8L150.5 318.9L143.5 317.4L140.2 316.0L134.4 313.0L133.3 311.5L133.3 310.0L133.8 309.0L137.0 305.0L139.0 303.0L144.5 299.8L149.0 296.6L151.4 295.5L154.0 294.7L164.1 293.0L173.5 290.0L178.5 289.1L184.5 288.4L186.0 288.5L187.0 288.9L188.2 290.0L190.0 293.0L191.3 295.5L192.1 298.0L192.4 300.0L192.2 302.0L191.6 304.0L190.8 305.5L189.0 307.7L181.0 315.2L177.5 316.8L171.5 318.4ZM166.5 324.6L159.5 324.6L158.0 324.4L155.5 323.6L150.0 321.3L142.0 319.5L138.5 319.0L136.5 318.4L132.5 316.2L130.5 314.4L129.8 313.0L129.4 311.5L129.3 310.0L129.6 308.5L130.6 307.0L132.9 305.0L135.0 302.5L136.5 301.2L138.5 300.2L142.8 298.5L148.0 295.5L151.0 294.2L154.0 293.4L164.5 291.5L172.5 288.8L177.0 287.7L185.5 286.1L187.0 286.1L188.5 286.5L189.8 287.5L190.5 288.6L193.2 294.5L194.3 297.5L194.6 299.5L194.4 301.5L193.9 303.5L193.1 305.0L190.9 308.0L186.5 311.8L183.5 315.3L182.0 316.7L177.5 319.4L172.5 321.0L168.5 323.9ZM418.5 313.6L416.5 313.6L415.0 313.3L412.0 311.9L410.6 311.0L409.5 309.5L408.3 307.0L407.3 304.5L406.8 302.5L406.6 300.5L406.9 298.5L409.4 292.0L410.4 290.5L411.4 289.5L412.5 288.8L414.0 288.3L415.5 288.3L417.0 288.8L422.4 292.0L424.9 294.0L425.8 296.0L426.0 298.5L425.4 303.5L423.7 310.0L423.0 311.2L422.0 312.2L420.5 313.0ZM418.5 315.0L416.5 315.3L414.5 315.2L410.5 314.1L409.0 313.2L408.0 311.7L407.2 309.5L406.1 305.5L405.4 302.0L405.3 300.0L405.6 298.0L408.5 290.4L409.5 289.0L411.0 287.6L413.5 285.9L415.0 285.4L416.5 285.8L420.0 288.5L425.3 292.0L426.9 294.0L427.5 296.0L427.4 298.5L426.7 305.0L425.8 308.5L424.9 311.0L423.8 312.5L422.6 313.5L421.0 314.3ZM417.0 317.1L414.5 317.4L412.0 316.9L409.0 315.9L407.3 314.5L406.1 312.5L405.3 310.0L404.5 305.5L404.0 301.0L404.3 297.5L406.4 291.0L407.5 288.7L409.9 285.5L410.6 284.0L410.7 282.5L410.3 279.0L410.6 277.0L411.2 276.0L412.4 275.0L413.5 274.4L415.0 274.1L416.5 274.5L418.0 276.0L418.5 277.5L419.4 282.5L420.2 285.0L421.7 287.0L426.0 290.5L427.3 292.0L428.4 294.0L428.9 296.5L428.6 301.5L427.9 306.5L427.2 309.5L426.0 312.0L424.8 313.5L423.0 314.9L420.0 316.2ZM415.0 320.0L412.5 319.6L409.0 318.1L407.0 316.9L405.7 315.5L404.6 313.5L403.6 310.5L402.9 306.5L402.7 303.0L402.9 298.0L404.4 292.0L405.5 288.4L407.8 284.0L407.9 282.5L407.7 278.5L408.0 276.0L409.0 274.2L410.5 272.7L412.5 271.6L414.5 271.2L416.0 271.4L417.5 271.9L418.5 272.5L419.7 274.0L420.5 276.0L422.5 283.2L424.3 286.0L428.0 290.5L429.0 292.0L429.9 294.5L430.2 297.5L430.0 303.0L429.3 307.5L428.4 310.5L427.1 313.0L425.5 314.8L423.0 316.6L417.5 319.4ZM416.0 322.5L414.0 322.8L412.5 322.3L406.5 318.6L405.0 317.3L403.8 315.5L402.4 312.0L401.6 309.0L401.1 305.5L401.2 302.5L401.7 297.0L403.6 288.5L405.4 283.0L405.7 277.0L406.1 275.0L407.4 272.5L409.3 270.5L411.0 269.5L413.5 269.0L416.0 269.2L418.0 269.8L419.8 271.0L421.0 272.5L425.1 283.0L430.5 292.0L431.2 294.5L431.6 297.5L431.5 302.5L430.9 307.0L429.9 310.5L428.5 313.5L426.5 315.9L424.0 318.1L418.5 321.4Z"/>
<path stroke="#1c1c1c" stroke-width="0.8" d="M218.0 128.5L216.5 128.6L215.0 128.2L213.7 127.5L212.7 126.5L212.2 125.5L212.1 124.5L212.3 123.5L213.0 122.5L215.0 121.5L217.5 121.4L220.0 121.8L221.8 123.0L222.5 124.5L222.4 125.5L222.0 126.5L220.5 127.8ZM218.0 129.5L216.0 129.6L214.1 129.0L212.5 128.0L211.1 126.5L210.7 125.0L210.8 123.5L211.5 122.1L212.5 121.2L215.0 120.4L219.0 120.4L222.0 121.2L223.5 122.5L223.9 123.5L224.0 125.0L223.6 126.5L223.0 127.4L221.0 128.8ZM218.5 130.5L216.0 130.7L214.0 130.2L211.0 128.5L209.4 127.0L208.9 125.5L209.2 123.5L210.2 121.5L211.5 120.1L213.0 119.5L214.5 119.3L219.5 119.3L223.0 120.1L224.0 120.5L225.1 121.5L225.6 123.0L225.6 124.5L225.2 126.5L224.5 127.9L223.5 128.8L222.5 129.4ZM185.0 132.5L182.5 132.5L180.5 131.8L179.7 131.0L179.3 130.0L179.5 128.5L180.5 127.7L182.0 127.4L184.7 127.5L187.0 128.2L187.5 128.6L187.9 129.5L187.5 131.0L186.5 132.0ZM416.0 133.0L413.5 132.9L409.8 131.5L409.0 130.8L408.5 130.0L408.4 128.0L409.1 126.0L410.5 124.3L416.0 121.9L418.0 121.7L419.0 122.1L420.0 123.0L420.4 124.0L420.4 125.5L419.6 128.5L418.5 131.1L417.5 132.4ZM417.0 134.5L415.5 134.7L413.5 134.4L411.0 133.6L409.0 132.7L408.0 131.9L407.4 131.0L407.1 130.0L407.0 128.5L407.8 125.5L408.5 124.3L409.7 123.0L411.5 121.9L415.0 120.4L417.5 119.9L419.5 120.4L421.0 121.3L422.0 122.5L422.4 124.0L422.1 126.0L419.8 132.0L418.5 133.7ZM417.5 136.6L416.0 136.5L412.5 135.7L410.5 135.0L408.4 134.0L407.1 133.0L406.4 132.0L405.9 130.5L405.7 129.0L406.0 127.0L406.7 125.0L407.5 123.4L409.0 121.6L410.5 120.5L412.0 119.8L415.2 118.5L417.0 118.2L419.5 118.6L422.2 120.0L424.0 122.0L424.5 124.0L424.0 127.2L421.9 132.5L419.7 135.5L418.5 136.3ZM175.5 309.1L173.0 309.1L168.5 307.7L165.5 307.4L164.0 307.0L163.4 306.5L162.9 305.5L163.3 303.5L164.4 302.0L165.6 301.0L169.0 299.0L171.0 298.2L173.5 298.2L178.2 299.5L179.5 300.5L179.9 301.5L179.8 303.0L179.3 305.5L178.7 307.0L178.0 307.8L177.0 308.6ZM176.0 310.1L174.0 310.5L171.5 310.4L162.5 309.4L161.0 308.6L160.0 307.5L159.6 306.5L159.7 305.0L160.9 302.5L162.3 301.0L164.1 300.0L170.5 297.2L173.0 297.0L180.5 298.3L181.7 299.0L182.2 300.0L182.2 301.5L181.6 303.5L180.4 306.5L179.5 308.0L178.0 309.3ZM170.5 312.0L163.5 311.9L160.5 311.3L151.9 307.0L150.9 306.0L150.8 305.5L150.9 304.5L151.7 303.5L153.0 302.7L157.0 302.4L161.5 299.5L171.0 296.0L173.0 295.9L177.0 296.4L181.0 296.3L182.5 296.7L183.5 297.3L184.2 298.0L184.5 299.0L184.3 301.5L183.4 304.0L180.5 308.6L178.9 310.0L176.5 311.1L174.5 311.6ZM418.5 308.0L417.5 308.0L416.5 307.7L414.5 306.5L411.8 304.0L410.7 302.0L410.5 299.5L411.4 296.0L412.5 294.0L414.0 293.0L415.8 293.0L417.4 294.0L420.3 298.5L421.0 300.1L421.4 302.5L421.0 304.9L420.0 306.9L419.4 307.5ZM419.5 310.0L418.5 310.2L417.5 310.1L414.5 308.4L411.0 305.3L410.0 303.9L409.4 302.5L409.2 301.0L409.3 299.5L410.6 295.0L412.0 292.8L413.0 292.0L414.0 291.5L416.0 291.5L418.0 292.6L421.1 296.0L422.4 298.5L422.7 301.5L422.3 305.0L421.0 308.5L420.2 309.5ZM418.5 312.0L417.2 312.0L416.0 311.6L412.0 308.8L409.5 305.8L408.5 304.0L408.1 302.5L407.9 300.5L408.1 299.0L410.1 293.5L411.5 291.4L412.5 290.6L414.0 290.0L415.0 289.9L416.5 290.2L419.6 292.0L423.1 295.0L423.7 296.0L424.2 297.5L424.3 300.0L423.9 303.5L422.5 309.0L422.0 310.0L421.0 311.1L420.0 311.7Z"/>
<g stroke="#0c0c0c" stroke-linecap="round">
<ellipse cx="217.5" cy="124.4" rx="21" ry="12.6" transform="rotate(-5 217.5 124.4)" stroke-width="1.0" stroke="#222"/>
<path d="M218 111.6l6 -0.9M219 137.4l7 0.3M238.4 120l0.8 5" stroke-width="1.6"/>
<path d="M413 117.5l6 -1.4M421 120.5l3 2.6M409.5 132l5 1.6" stroke-width="1.4"/>
<path d="M134.5 294.2l7.5 -0.6M158.5 324.4l7 -0.4" stroke-width="1.7"/>
<path d="M434.5 290l1.6 8M430 312l3 -4" stroke-width="1.5"/>
</g>
</g>
<text transform="translate(174.4,35.4) scale(0.7750,1)" font-size="20" font-weight="bold" text-anchor="middle" fill="#000" stroke="#000" stroke-width="0.7">LSK</text>
<text transform="translate(382.9,35.6) scale(1.0066,1)" font-size="20" font-weight="bold" text-anchor="middle" fill="#000" stroke="#000" stroke-width="0.7">MP</text>
<text transform="translate(472.3,110.0) scale(0.8773,1)" font-size="22.0" font-weight="bold" text-anchor="start" fill="#000" stroke="#000" stroke-width="0.5">ET2</text>
<text x="508.0" y="101.2" font-size="15.5" font-weight="bold">-</text>
<text transform="translate(476.8,301.9) scale(0.8674,1)" font-size="22.0" font-weight="bold" text-anchor="start" fill="#000" stroke="#000" stroke-width="0.5">ET2</text>
<text x="511.7" y="297.0" font-size="15.2" font-weight="bold" stroke="#000" stroke-width="0.4">+</text>
<path d="M81.6 364.3V47" stroke="#000" stroke-width="1.85" fill="none"/>
<path d="M81.7 36.6L88.2 48.8H75.2Z" fill="#000"/>
<path d="M98.9 406.6H437" stroke="#000" stroke-width="2.05" fill="none"/>
<path d="M448.4 406.8L436.2 413.2V400.4Z" fill="#000"/>
<text transform="translate(72.2,192.0) rotate(-90) scale(1.0101,1)" font-size="22.3" font-weight="bold" text-anchor="middle" fill="#000" stroke="#000" stroke-width="0.5">F4/80</text>
<text transform="translate(282.1,426.1) scale(1.0127,1)" font-size="21" font-weight="bold" text-anchor="middle" fill="#000" stroke="#000" stroke-width="0.5">Mac1</text>
<g id="chartA-axes" stroke="#7a7a7a" stroke-width="1.1" fill="none">
<path d="M120.7 465.8V764"/>
<path d="M113.3 758.5H498.5V765"/>
<path d="M113.3 716.8H120.7"/>
<path d="M113.3 675.0H120.7"/>
<path d="M113.3 633.3H120.7"/>
<path d="M113.3 591.5H120.7"/>
<path d="M113.3 549.8H120.7"/>
<path d="M113.3 508.1H120.7"/>
<path d="M113.3 466.3H120.7"/>
</g>
<text transform="translate(101.3,765.0) scale(1.0800,1)" font-size="18.2" font-weight="normal" text-anchor="end" fill="#111" stroke="#111" stroke-width="0.7">0</text>
<text transform="translate(101.3,723.26) scale(1.0800,1)" font-size="18.2" font-weight="normal" text-anchor="end" fill="#111" stroke="#111" stroke-width="0.7">1</text>
<text transform="translate(101.3,681.52) scale(1.0800,1)" font-size="18.2" font-weight="normal" text-anchor="end" fill="#111" stroke="#111" stroke-width="0.7">2</text>
<text transform="translate(101.3,639.78) scale(1.0800,1)" font-size="18.2" font-weight="normal" text-anchor="end" fill="#111" stroke="#111" stroke-width="0.7">3</text>
<text transform="translate(101.3,598.04) scale(1.0800,1)" font-size="18.2" font-weight="normal" text-anchor="end" fill="#111" stroke="#111" stroke-width="0.7">4</text>
<text transform="translate(101.3,556.3) scale(1.0800,1)" font-size="18.2" font-weight="normal" text-anchor="end" fill="#111" stroke="#111" stroke-width="0.7">5</text>
<text transform="translate(101.3,514.56) scale(1.0800,1)" font-size="18.2" font-weight="normal" text-anchor="end" fill="#111" stroke="#111" stroke-width="0.7">6</text>
<text transform="translate(101.3,472.82) scale(1.0800,1)" font-size="18.2" font-weight="normal" text-anchor="end" fill="#111" stroke="#111" stroke-width="0.7">7</text>
<rect x="163.4" y="639.3" width="58.9" height="118.7" fill="#b2b2b2"/>
<rect x="221.6" y="750.0" width="58.4" height="8.5" fill="#000"/>
<rect x="338.0" y="550.8" width="57.7" height="207.2" fill="#b2b2b2"/>
<rect x="395.7" y="577.0" width="58.7" height="181.5" fill="#000"/>
<path d="M193.2 640.0V593.0M188.79999999999998 593.6H197.6" stroke="#000" stroke-width="2.4" fill="none"/>
<path d="M251.3 751.0V742.6M246.9 743.2H255.70000000000002" stroke="#000" stroke-width="2.4" fill="none"/>
<path d="M367.5 552.0V482.4M363.1 483.0H371.9" stroke="#000" stroke-width="2.4" fill="none"/>
<path d="M426.0 578.0V528.6M421.6 529.2H430.4" stroke="#000" stroke-width="2.4" fill="none"/>
<text transform="translate(216.5,782.7) scale(0.7750,1)" font-size="20" font-weight="bold" text-anchor="middle" fill="#000" stroke="#000" stroke-width="0.7">LSK</text>
<text transform="translate(396.5,784.5) scale(0.9866,1)" font-size="20" font-weight="bold" text-anchor="middle" fill="#000" stroke="#000" stroke-width="0.7">MP</text>
<rect x="206.8" y="480.8" width="22.7" height="14.7" fill="#b2b2b2"/>
<rect x="206.8" y="525" width="22.7" height="14.6" fill="#2a2a2a"/>
<text transform="translate(236.3,493.3) scale(0.8944,1)" font-size="17.8" font-weight="bold" text-anchor="start" fill="#111" stroke="#111" stroke-width="0.25">ET2</text>
<text x="264.8" y="487.6" font-size="16.5" font-weight="bold" fill="#111">-</text>
<text transform="translate(236.3,536.4) scale(0.8944,1)" font-size="17.8" font-weight="bold" text-anchor="start" fill="#111" stroke="#111" stroke-width="0.25">ET2</text>
<text x="264.7" y="529.8" font-size="11.8" fill="#111" stroke="#111" stroke-width="0.6">+</text>
<text transform="translate(69.3,610) rotate(-90) scale(0.9700,1)" font-size="18.8" font-weight="bold" text-anchor="middle" stroke="#000" stroke-width="0.55">Number of Mac1+ cellsx10<tspan dy="-6.2" font-size="11.5">-3</tspan><tspan dy="6.2" font-size="18.8">/well</tspan></text>
<g id="chartB-axes" stroke="#8a8a8a" fill="none">
<path d="M188.3 834.8V1095.6" stroke="#7c7c7c" stroke-width="1.6"/>
<path d="M179.5 1085.6H472" stroke-width="2.6"/>
<path d="M330.3 1085.6V1095.6M471.5 1085.6V1095.6" stroke-width="1.6"/>
<path d="M179.3 1044.0H184.7" stroke="#707070" stroke-width="1.9"/>
<path d="M179.3 1002.5H184.7" stroke="#707070" stroke-width="1.9"/>
<path d="M179.3 960.9H184.7" stroke="#707070" stroke-width="1.9"/>
<path d="M179.3 919.4H184.7" stroke="#707070" stroke-width="1.9"/>
<path d="M179.3 877.8H184.7" stroke="#707070" stroke-width="1.9"/>
<path d="M179.3 836.3H184.7" stroke="#707070" stroke-width="1.9"/>
</g>
<text transform="translate(164.4,1092.1999999999998) scale(0.9000,1)" font-size="15.4" font-weight="normal" text-anchor="end" fill="#111" stroke="#111" stroke-width="0.75">0</text>
<text transform="translate(166.0,1050.6499999999999) scale(0.9000,1)" font-size="15.4" font-weight="normal" text-anchor="end" fill="#111" stroke="#111" stroke-width="0.75">20</text>
<text transform="translate(166.0,1009.0999999999999) scale(0.9000,1)" font-size="15.4" font-weight="normal" text-anchor="end" fill="#111" stroke="#111" stroke-width="0.75">40</text>
<text transform="translate(166.0,967.55) scale(0.9000,1)" font-size="15.4" font-weight="normal" text-anchor="end" fill="#111" stroke="#111" stroke-width="0.75">60</text>
<text transform="translate(166.0,925.9999999999999) scale(0.9000,1)" font-size="15.4" font-weight="normal" text-anchor="end" fill="#111" stroke="#111" stroke-width="0.75">80</text>
<text transform="translate(167.8,884.4499999999999) scale(0.9000,1)" font-size="15.4" font-weight="normal" text-anchor="end" fill="#111" stroke="#111" stroke-width="0.75">100</text>
<text transform="translate(167.8,842.9) scale(0.9000,1)" font-size="15.4" font-weight="normal" text-anchor="end" fill="#111" stroke="#111" stroke-width="0.75">120</text>
<rect x="204.5" y="883.8" width="40.5" height="200.6" fill="#b2b2b2"/>
<rect x="245.0" y="987.0" width="40.0" height="97.4" fill="#000"/>
<rect x="345.9" y="992.8" width="38.7" height="91.6" fill="#b2b2b2" stroke="#808080" stroke-width="2.6"/>
<rect x="384.6" y="976.3" width="41.4" height="108.1" fill="#000"/>
<text transform="translate(245.2,1112.0) scale(0.7100,1)" font-size="20" font-weight="bold" text-anchor="middle" fill="#000" stroke="#000" stroke-width="0.7">LSK</text>
<text transform="translate(386.2,1112.3) scale(0.9200,1)" font-size="20" font-weight="bold" text-anchor="middle" fill="#000" stroke="#000" stroke-width="0.7">MP</text>
<rect x="378.8" y="838" width="28.2" height="14.2" fill="#b2b2b2"/>
<rect x="378.8" y="881.8" width="28.2" height="15" fill="#2a2a2a"/>
<text transform="translate(415.5,850.8) scale(0.8944,1)" font-size="17.8" font-weight="bold" text-anchor="start" fill="#111" stroke="#111" stroke-width="0.25">ET2</text>
<text x="443.9" y="845.2" font-size="16.5" font-weight="bold" fill="#111">-</text>
<text transform="translate(415.5,894.3) scale(0.8944,1)" font-size="17.8" font-weight="bold" text-anchor="start" fill="#111" stroke="#111" stroke-width="0.25">ET2</text>
<text x="443.9" y="887.6" font-size="11.8" fill="#111" stroke="#111" stroke-width="0.6">+</text>
<text transform="translate(132.4,984.8) rotate(-90) scale(0.9930,1)" font-size="21.4" font-weight="bold" text-anchor="middle" fill="#000" stroke="#000" stroke-width="0.7">number of colonies</text>
</svg>
</body></html>
